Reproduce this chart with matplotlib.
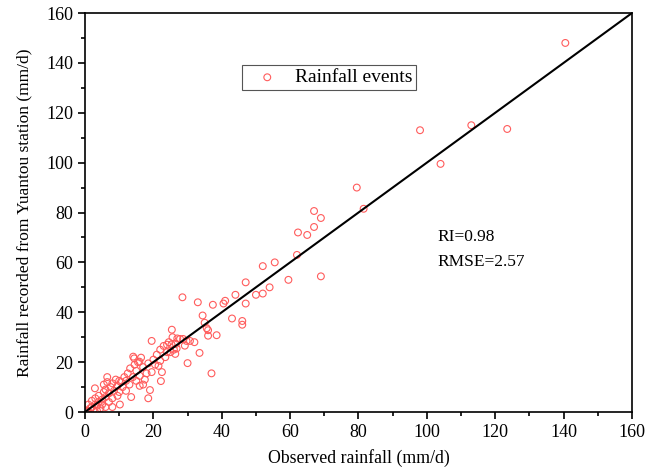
import matplotlib
matplotlib.use("Agg")
import matplotlib.pyplot as plt
import numpy as np

COLOR_POINT = "#ff5c5c"

# observed (x) vs station-recorded (y) rainfall, mm/d
obs = [
    0.3, 0.5, 1.0, 1.0, 1.5, 2.0, 2.0, 2.5, 2.9, 3.0, 3.0, 3.5, 3.5, 4.0, 4.0,
    4.5, 5.0, 5.0, 5.5, 5.5, 6.0, 6.0, 6.0, 6.5, 6.5, 7.0, 7.0, 7.5, 8.0, 8.0,
    8.0, 8.5, 9.0, 9.5, 9.5, 10.0, 10.0, 10.2, 10.5,
    11.0, 11.5, 12.0, 12.0, 12.5, 13.0, 13.2, 13.5, 14.0, 14.1, 14.4, 14.5,
    15.0, 15.0, 15.5, 15.9, 16.0, 16.0, 16.4, 17.0, 17.0, 17.5, 18.0, 18.5,
    18.5, 19.0, 19.5, 19.5, 20.0, 20.5,
    21.0, 21.5, 22.0, 22.0, 22.2, 22.5, 23.0, 23.5, 24.0, 24.0, 24.5, 25.0,
    25.3, 25.4, 25.6, 26.0, 26.4, 26.6, 26.8, 27.0, 27.8, 28.5, 28.7, 29.2,
    29.7, 30.0, 30.7,
    32.0, 33.0, 33.5, 34.4, 35.0, 35.6, 36.0, 36.0, 37.0, 37.4, 38.5, 40.5,
    41.0, 43.0, 44.0, 46.0, 46.0, 47.0, 47.0, 50.0, 52.0, 52.0, 54.0, 55.5,
    59.5, 62.0, 62.3, 65.0, 67.0, 67.0, 69.0, 69.0, 79.5, 81.5, 98.0, 104.0,
    113.0, 123.5, 140.5,
]
rec = [
    0.5, 0.2, 3.0, 0.2, 1.5, 2.0, 4.5, 1.0, 9.5, 3.0, 5.5, 0.5, 2.5, 4.0, 6.5,
    1.5, 3.0, 5.0, 8.0, 11.0, 2.0, 6.0, 9.0, 12.0, 14.0, 4.0, 7.5, 10.0, 2.0,
    5.5, 11.5, 8.5, 13.0, 6.5, 10.5, 8.0, 12.5, 3.0, 12.0,
    10.0, 14.0, 8.5, 12.5, 15.5, 11.0, 17.5, 6.0, 14.0, 22.2, 21.5, 19.0,
    12.5, 16.5, 20.0, 20.2, 10.5, 14.5, 21.8, 18.0, 11.0, 13.0, 15.5, 5.5,
    19.5, 8.8, 28.5, 16.0, 21.0, 19.0,
    23.0, 18.5, 20.5, 25.0, 12.4, 16.0, 26.5, 22.0, 27.0, 24.0, 28.0, 24.0,
    27.1, 33.0, 30.0, 25.0, 23.3, 27.3, 25.5, 29.5, 29.3, 46.0, 29.3, 26.6,
    28.5, 19.6, 28.5,
    28.0, 44.0, 23.7, 38.7, 35.8, 33.6, 32.8, 30.6, 15.5, 43.0, 30.8, 43.5,
    44.6, 37.5, 47.0, 36.5, 35.0, 43.5, 52.0, 47.0, 47.5, 58.5, 50.0, 60.0,
    53.0, 63.0, 72.0, 71.0, 80.6, 74.2, 77.8, 54.4, 90.0, 81.5, 113.0, 99.5,
    115.0, 113.5, 148.0,
]
fit_line = [0, 160]

ri_text = "RI=0.98"
rmse_text = "RMSE=2.57"

plt.rcParams["font.family"] = ["Liberation Serif", "DejaVu Serif"]

fig = plt.figure(figsize=(6.61, 4.70), dpi=100)
ax = fig.add_axes([0.1286, 0.1234, 0.8275, 0.8489])

ax.scatter(obs, rec, s=24, facecolors="none", edgecolors=COLOR_POINT,
           linewidths=0.8, label="Rainfall events", zorder=2)
ax.plot(fit_line, fit_line, color="black", lw=1.5, zorder=3)

ax.text(103, 70, ri_text, fontsize=12.5, va="center", ha="left")
ax.text(103, 60, rmse_text, fontsize=12.5, va="center", ha="left")

ax.set_xlim(0, 160)
ax.set_ylim(0, 160)
ax.set_xticks(np.arange(0, 161, 20))
ax.set_yticks(np.arange(0, 161, 20))
ax.set_xticks(np.arange(10, 160, 20), minor=True)
ax.set_yticks(np.arange(10, 160, 20), minor=True)
ax.tick_params(which="both", direction="out", labelsize=13, width=1.2)
ax.tick_params(which="major", length=5)
ax.tick_params(which="minor", length=3)
for sp in ax.spines.values():
    sp.set_linewidth(1.2)

ax.set_xlabel("Observed rainfall (mm/d)", fontsize=12.8, labelpad=6)
ax.set_ylabel("Rainfall recorded from Yuantou station (mm/d)", fontsize=12.5,
              labelpad=10)

leg = ax.legend(loc="upper left", bbox_to_anchor=(0.287, 0.870), fontsize=14,
                fancybox=False, edgecolor="#555555", handletextpad=0.33,
                borderpad=0.2, handlelength=2.2, borderaxespad=0,
                framealpha=1)
leg.get_frame().set_linewidth(0.8)

fig.savefig("out.png", dpi=100)
